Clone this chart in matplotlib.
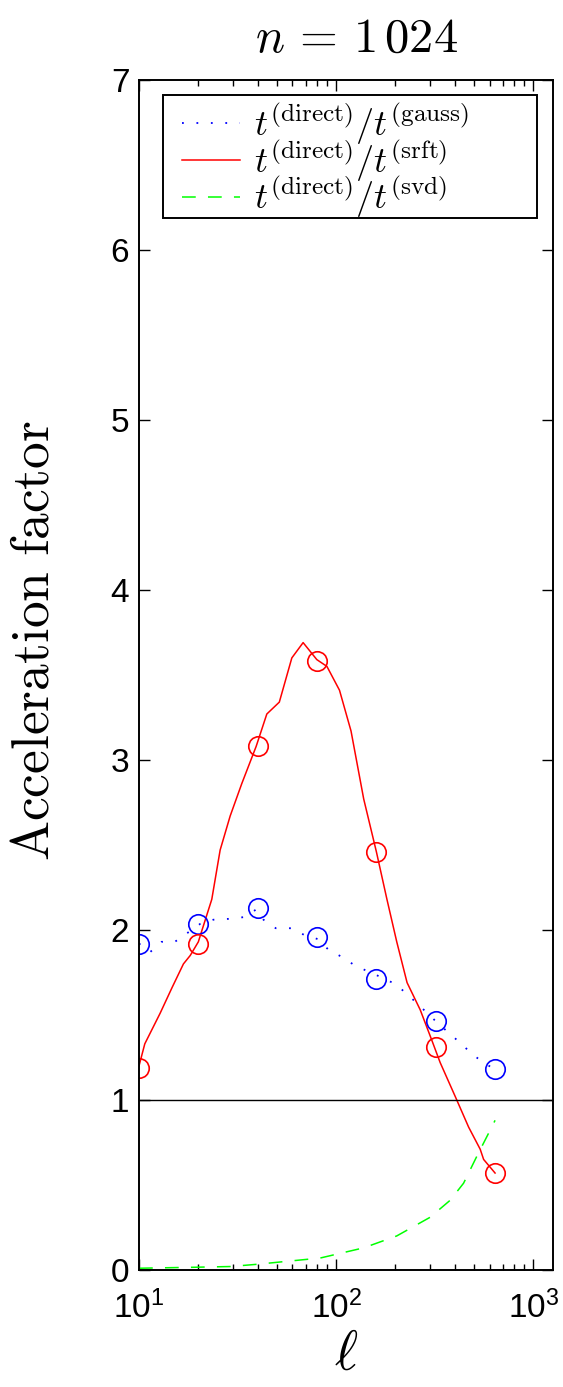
"""
acceleration factor vs oversampling l, n = 1024
outputs: out.png
"""

import matplotlib.pyplot as plt
from matplotlib.lines import Line2D
from matplotlib.patches import Rectangle

# -- DATA --
# sampled points (circles)
ell_marks = [10, 20, 40, 80, 160, 320, 640]
gauss_marks = [1.92, 2.035, 2.13, 1.96, 1.71, 1.465, 1.18]
srft_marks = [1.19, 1.92, 3.08, 3.58, 2.46, 1.31, 0.57]

# dense curves
ell_gauss = [10, 11.4, 13.0, 15.2, 17.5, 20.4, 23.8, 28.4, 33.9, 39.3, 42.8,
             49.4, 59.2, 69.0, 81.3, 92.0, 107.6, 124.7, 170.6, 201, 230, 262,
             296, 340, 386, 440, 501, 577, 640]
t_gauss = [1.92, 1.87, 1.93, 1.93, 1.98, 2.035, 2.06, 2.065, 2.075, 2.12, 2.06,
           2.01, 2.01, 1.97, 1.945, 1.88, 1.84, 1.79, 1.72, 1.68, 1.62, 1.56,
           1.50, 1.435, 1.38, 1.32, 1.26, 1.21, 1.18]

ell_srft = [10, 10.7, 12.8, 14.7, 16.8, 18.2, 20, 20.5, 23.4, 25.8, 29, 33.2,
            39.3, 44.5, 51.5, 59.6, 68, 79.8, 89.8, 104, 119, 138, 160, 181,
            203, 229, 267, 306, 337, 402, 470, 538, 560, 640]
t_srft = [1.20, 1.33, 1.51, 1.66, 1.80, 1.85, 1.93, 1.97, 2.18, 2.47, 2.67, 2.86,
          3.08, 3.27, 3.34, 3.60, 3.69, 3.59, 3.55, 3.41, 3.17, 2.77, 2.46, 2.18,
          1.93, 1.69, 1.53, 1.35, 1.22, 1.02, 0.84, 0.71, 0.65, 0.57]

ell_svd = [10, 19.5, 29, 39.5, 83, 138, 203, 300, 379, 443, 518, 628, 640]
t_svd = [0.01, 0.016, 0.02, 0.033, 0.07, 0.13, 0.20, 0.31, 0.41, 0.51, 0.67,
         0.86, 0.88]

labels = [r"$t^{(\mathrm{direct})}/t^{(\mathrm{gauss})}$",
          r"$t^{(\mathrm{direct})}/t^{(\mathrm{srft})}$",
          r"$t^{(\mathrm{direct})}/t^{(\mathrm{svd})}$"]

# -- STYLE --
plt.rcParams["font.family"] = ["Liberation Sans", "DejaVu Sans"]
plt.rcParams["mathtext.fontset"] = "custom"
plt.rcParams["mathtext.rm"] = "Liberation Sans"
plt.rcParams["mathtext.it"] = "Liberation Sans:italic"

BLUE = "#0000ff"
RED = "#ff0000"
GREEN = "#00ff00"
DOTS = (0, (1, 7))
DASH = (0, (9, 8))

# -- PLOT --
fig = plt.figure(figsize=(5.63, 13.87), dpi=100)
ax = fig.add_axes([0.2469, 0.0844, 0.7353, 0.858])

ax.plot(ell_gauss, t_gauss, color=BLUE, linestyle=DOTS, linewidth=1.3)
ax.plot(ell_srft, t_srft, color=RED, linestyle="-", linewidth=1.1)
ax.plot(ell_svd, t_svd, color=GREEN, linestyle=DASH, linewidth=1.1)

ax.plot(ell_marks, gauss_marks, "o", color=BLUE, markerfacecolor="none",
        markersize=14, markeredgewidth=1.2)
ax.plot(ell_marks, srft_marks, "o", color=RED, markerfacecolor="none",
        markersize=14, markeredgewidth=1.2)

ax.axhline(1, color="black", linewidth=1.0)

ax.set_xscale("log")
ax.set_xlim(10, 10 ** 3.1)
ax.set_ylim(0, 7)
ax.set_yticks(range(0, 8))

ax.tick_params(which="both", direction="in", top=True, right=True,
               labelsize=24, width=1.0)
ax.tick_params(which="major", length=8)
ax.tick_params(which="minor", length=4.5)
ax.tick_params(axis="y", pad=7)
ax.tick_params(axis="x", pad=15)
for sp in ax.spines.values():
    sp.set_linewidth(1.4)

title = ax.set_title(r"$n\,=\,1\,024$", fontsize=35, pad=20, x=0.525)
title.set_math_fontfamily("cm")
xl = ax.set_xlabel(r"$\ell$", fontsize=40, labelpad=3)
xl.set_math_fontfamily("cm")
yl = ax.set_ylabel(r"$\mathrm{Acceleration\ factor}$", fontsize=38.5)
yl.set_math_fontfamily("cm")
ax.yaxis.set_label_coords(-0.193, 0.529)

# legend: entries without frame, box drawn separately (wider right margin)
handles = [
    Line2D([0], [0], color=BLUE, linestyle=DOTS, linewidth=1.3),
    Line2D([0], [0], color=RED, linestyle="-", linewidth=1.1),
    Line2D([0], [0], color=GREEN, linestyle=DASH, linewidth=1.1),
]
leg = ax.legend(handles, labels, loc="upper left",
                bbox_to_anchor=(0.104, 0.982), fontsize=26, frameon=False,
                handlelength=1.6, borderpad=0, labelspacing=-0.25,
                handletextpad=0.4, borderaxespad=0)
for t in leg.get_texts():
    t.set_math_fontfamily("cm")
ax.add_patch(Rectangle((0.058, 0.884), 0.903, 0.1034, transform=ax.transAxes,
                       facecolor="white", edgecolor="black", linewidth=1.4,
                       zorder=4))
leg.set_zorder(5)

# -- SAVE --
plt.savefig("out.png", dpi=100)
plt.close()
